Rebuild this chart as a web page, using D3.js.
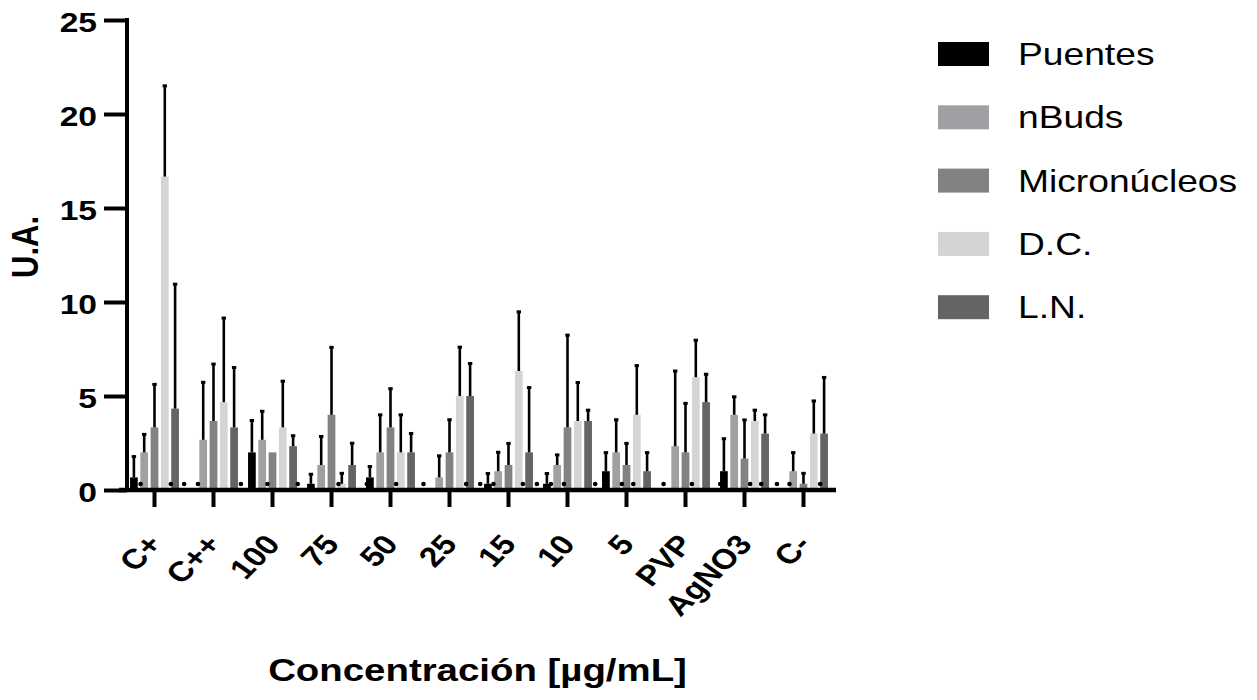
<!DOCTYPE html>
<html>
<head>
<meta charset="utf-8">
<script src="https://cdn.jsdelivr.net/npm/d3@7/dist/d3.min.js"></script>
<style>
  body { margin: 0; background: #fff; }
  text { font-family: 'Liberation Sans', Arial, sans-serif; }
</style>
</head>
<body>
<div class="canvas"></div>
<script>
// chart data
const categories = ['C+', 'C++', '100', '75', '50', '25', '15', '10', '5', 'PVP', 'AgNO3', 'C-'];
const seriesNames = ['Puentes', 'nBuds', 'Micronúcleos', 'D.C.', 'L.N.'];
const seriesColors = ['#000000', '#a0a0a4', '#828282', '#d4d4d4', '#646464'];

const puentes      = [0.67, 0, 2.0, 0.33, 0.67, 0, 0.33, 0.33, 1.0, 0, 1.0, 0];
const puentesSD    = [1.15, 0, 1.74, 0.55, 0.62, 0, 0.59, 0.59, 1.03, 0, 1.77, 0];
const nBuds        = [2.0, 2.67, 2.67, 1.33, 2.0, 0.67, 1.0, 1.33, 2.0, 2.33, 4.0, 1.0];
const nBudsSD      = [1.0, 3.1, 1.56, 1.56, 2.04, 1.19, 1.05, 0.58, 1.78, 4.04, 1.0, 1.03];
const micro        = [3.33, 3.67, 2.0, 4.0, 3.33, 2.0, 1.33, 3.33, 1.33, 2.0, 1.67, 0.33];
const microSD      = [2.33, 3.07, 0, 3.63, 2.1, 1.78, 1.19, 4.95, 1.19, 2.65, 2.1, 0.6];
const dc           = [16.67, 4.67, 3.33, 0.33, 2.0, 5.0, 6.33, 3.67, 4.0, 6.0, 3.67, 3.0];
const dcSD         = [4.87, 4.52, 2.5, 0.6, 2.04, 2.64, 3.19, 2.09, 2.66, 2.01, 0.62, 1.78];
const ln           = [4.33, 3.33, 2.33, 1.33, 2.0, 5.0, 2.0, 3.67, 1.0, 4.67, 3.0, 3.0];
const lnSD         = [6.66, 3.23, 0.6, 1.2, 1.05, 1.77, 3.49, 0.62, 1.03, 1.53, 1.04, 3.03];

// little points sitting on the baseline: [category index, offset in bar slots from group centre]
const zeroDots = [
  [0, -1.35], [0, 1.59], [0, 2.88], [1, -1.51], [1, 2.66], [2, -0.49], [2, 2.45],
  [3, 0.68], [4, -2.3], [4, 0.55], [4, 3.2], [5, 1.62], [5, 2.98], [6, -1.46],
  [6, 1.4], [6, 2.76], [7, -1.61], [7, -0.35], [7, 2.69], [8, -0.45], [8, 0.66],
  [8, 3.6], [9, 0.62], [9, 3.37], [10, 0.55], [10, 1.62], [10, 3.15], [11, -1.36], [11, 1.62]
];

const yTicks = [0, 5, 10, 15, 20, 25];

const seriesValues = [puentes, nBuds, micro, dc, ln];
const seriesSD = [puentesSD, nBudsSD, microSD, dcSD, lnSD];

const canvasWidth = 1257;
const canvasHeight = 700;
const stretch = 1.2;   // the figure's lettering is horizontally widened

const svg = d3.select('.canvas')
    .append('svg')
    .attr('width', canvasWidth)
    .attr('height', canvasHeight);

const margin = { top: 20, left: 125, right: 424, bottom: 210 };
const graphBottom = canvasHeight - margin.bottom;

// scales
const x = d3.scaleBand()
    .domain(categories)
    .range([margin.left, canvasWidth - margin.right]);

const xInner = d3.scaleBand()
    .domain(seriesNames)
    .range([x.bandwidth() / 2 - 25.75, x.bandwidth() / 2 + 25.75])
    .paddingInner(0.25)
    .paddingOuter(0.125);

const slot = d3.scaleLinear()
    .domain([0, 1])
    .range([x.bandwidth() / 2, x.bandwidth() / 2 + xInner.step()]);

const y = d3.scaleLinear()
    .domain([0, 25])
    .range([graphBottom, margin.top]);

// flatten to one row per bar
const rows = [];
seriesNames.forEach((s, si) => {
    categories.forEach((c, ci) => {
        rows.push({ cat: c, series: s, si: si, value: seriesValues[si][ci], sd: seriesSD[si][ci] });
    });
});

// bars
svg.append('g').selectAll('rect')
    .data(rows.filter(d => d.value > 0))
    .enter()
    .append('rect')
    .attr('x', d => x(d.cat) + xInner(d.series))
    .attr('width', xInner.bandwidth())
    .attr('y', d => y(d.value))
    .attr('height', d => y(0) - y(d.value))
    .attr('fill', d => seriesColors[d.si]);

// error bars (upper only)
const errs = svg.append('g').selectAll('g')
    .data(rows.filter(d => d.sd > 0))
    .enter()
    .append('g')
    .attr('transform', d => `translate(${x(d.cat) + xInner(d.series) + xInner.bandwidth() / 2},0)`);

errs.append('line')
    .attr('y1', d => y(d.value))
    .attr('y2', d => y(d.value + d.sd))
    .attr('stroke', '#000')
    .attr('stroke-width', 2.6);

errs.append('line')
    .attr('x1', -2.2)
    .attr('x2', 2.2)
    .attr('y1', d => y(d.value + d.sd) + 0.8)
    .attr('y2', d => y(d.value + d.sd) + 0.8)
    .attr('stroke', '#000')
    .attr('stroke-width', 3);

// baseline points
svg.append('g').selectAll('circle')
    .data(zeroDots)
    .enter()
    .append('circle')
    .attr('cx', d => x(categories[d[0]]) + slot(d[1]))
    .attr('cy', y(0) - 6)
    .attr('r', 2.3)
    .attr('fill', '#000');

// y axis
const yAxisGroup = svg.append('g')
    .attr('transform', `translate(127,0)`)
    .call(d3.axisLeft(y).tickValues(yTicks).tickSize(23).tickSizeOuter(0).tickFormat(d => d));

yAxisGroup.select('.domain').attr('stroke-width', 4).attr('d', `M0,${margin.top - 2}V${graphBottom + 2}`);
yAxisGroup.selectAll('.tick line').attr('stroke-width', 4);
yAxisGroup.selectAll('.tick text')
    .attr('x', null)
    .attr('dy', '0.40em')
    .attr('transform', `translate(-30,0) scale(${stretch},1)`)
    .attr('fill', '#000')
    .attr('font-size', 28)
    .attr('font-weight', 'bold')
    .style('font-family', "'Liberation Sans', Arial, sans-serif");

// x axis
const xAxisGroup = svg.append('g')
    .attr('transform', `translate(0,${graphBottom})`)
    .call(d3.axisBottom(x).tickSize(17).tickSizeOuter(0));

xAxisGroup.select('.domain').remove();
xAxisGroup.append('line')
    .attr('x1', 119)
    .attr('x2', 836)
    .attr('stroke', '#000')
    .attr('stroke-width', 4.5);
xAxisGroup.selectAll('.tick line').attr('stroke-width', 4);
// rotate a bit past 45 so the widened text still reads at 45 degrees
xAxisGroup.selectAll('.tick text')
    .attr('y', 0)
    .attr('dy', 0)
    .attr('text-anchor', 'end')
    .attr('transform', `translate(9,55) scale(${stretch},1) rotate(-50)`)
    .attr('fill', '#000')
    .attr('font-size', 28)
    .attr('font-weight', 'bold')
    .style('font-family', "'Liberation Sans', Arial, sans-serif");

// axis titles
svg.append('text')
    .attr('transform', `translate(38,${(margin.top + graphBottom) / 2 - 8}) scale(${stretch},1) rotate(-90)`)
    .attr('text-anchor', 'middle')
    .attr('font-size', 31)
    .attr('font-weight', 'bold')
    .text('U.A.');

svg.append('text')
    .attr('transform', `translate(${(119 + 836) / 2},681) scale(${stretch},1)`)
    .attr('text-anchor', 'middle')
    .attr('font-size', 32)
    .attr('font-weight', 'bold')
    .text('Concentración [µg/mL]');

// legend
const legend = svg.append('g')
    .attr('transform', 'translate(938,54)');

const items = legend.selectAll('g')
    .data(seriesNames)
    .enter()
    .append('g')
    .attr('transform', (d, i) => `translate(0,${i * 63.3})`);

items.append('rect')
    .attr('x', 0)
    .attr('y', -12)
    .attr('width', 51)
    .attr('height', 24)
    .attr('fill', (d, i) => seriesColors[i]);

items.append('text')
    .attr('transform', `translate(80,11) scale(${stretch},1)`)
    .attr('font-size', 31)
    .attr('fill', '#000')
    .text(d => d);
</script>
</body>
</html>
